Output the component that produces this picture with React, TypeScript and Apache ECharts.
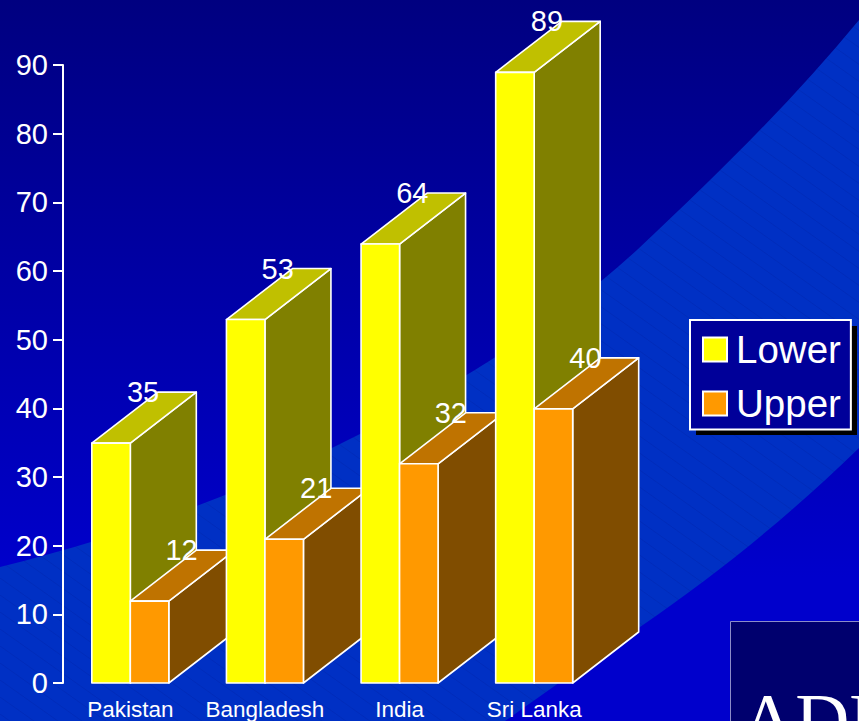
import React, { useEffect, useRef } from "react";
import * as echarts from "echarts";

const categories = ["Pakistan", "Bangladesh", "India", "Sri Lanka"];
const lowerValues = [35, 53, 64, 89];
const upperValues = [12, 21, 32, 40];
const yTicks = { min: 0, max: 90, interval: 10 };

const FONT = '"Liberation Sans", Arial, sans-serif';
const BAR_WIDTH = 38.5;
const DEPTH_X = 66;
const DEPTH_Y = -51;

const SWOOSH =
  "M0,567 C130,535 250,490 362,433 C470,378 560,320 637,250 C720,172 795,98 859,20 L859,448 C790,515 720,572 640,627 C590,660 545,693 505,721 L0,721 Z";
echarts.graphic.registerShape("swoosh", echarts.graphic.extendPath(SWOOSH, {}));

function hatchPattern(): HTMLCanvasElement {
  const c = document.createElement("canvas");
  c.width = 24;
  c.height = 17;
  const g = c.getContext("2d")!;
  g.fillStyle = "#0030c4";
  g.fillRect(0, 0, 24, 17);
  g.strokeStyle = "#002cba";
  g.lineWidth = 1;
  g.beginPath();
  g.moveTo(-24, -17);
  g.lineTo(48, 34);
  g.stroke();
  return c;
}

function bar3d(side: "left" | "right", front: string, top: string, right: string, seriesIndex: number) {
  return (params: any, api: any) => {
    const cat = api.value(0);
    const val = api.value(1);
    const [cx, yCoord] = api.coord([cat, val]);
    const yTop = yCoord + 0.5;
    const [, yBase] = api.coord([cat, 0]);
    const x0 = side === "left" ? cx - BAR_WIDTH : cx;
    const x1 = x0 + BAR_WIDTH;
    const z2 = cat * 10 + seriesIndex;
    const stroke = { stroke: "#ffffff", lineWidth: 1.6, lineJoin: "round" };
    const poly = (points: number[][], fill: string) => ({
      type: "polygon",
      z2,
      shape: { points },
      style: { fill, ...stroke },
    });
    return {
      type: "group",
      children: [
        poly(
          [
            [x1, yBase],
            [x1 + DEPTH_X, yBase + DEPTH_Y],
            [x1 + DEPTH_X, yTop + DEPTH_Y],
            [x1, yTop],
          ],
          right
        ),
        poly(
          [
            [x0, yTop],
            [x0 + DEPTH_X, yTop + DEPTH_Y],
            [x1 + DEPTH_X, yTop + DEPTH_Y],
            [x1, yTop],
          ],
          top
        ),
        poly(
          [
            [x0, yBase],
            [x0, yTop],
            [x1, yTop],
            [x1, yBase],
          ],
          front
        ),
        {
          type: "text",
          z2: 200,
          x: (x0 + x1) / 2 + DEPTH_X / 2 - 1,
          y: yTop + DEPTH_Y,
          style: {
            text: String(val),
            fill: "#ffffff",
            font: `29px ${FONT}`,
            align: "center",
            verticalAlign: "middle",
          },
        },
      ],
    };
  };
}

export default function App() {
  const ref = useRef<HTMLDivElement>(null);
  useEffect(() => {
    const chart = echarts.init(ref.current!, null, { renderer: "svg" });
    chart.setOption({
      animation: false,
      backgroundColor: {
        type: "linear",
        x: 0,
        y: 0,
        x2: 0,
        y2: 1,
        colorStops: [
          { offset: 0, color: "#000080" },
          { offset: 0.8, color: "#0000cc" },
          { offset: 1, color: "#0000cc" },
        ],
      },
      grid: { left: 63, right: 257.5, top: 65, bottom: 36 },
      xAxis: {
        type: "category",
        data: categories,
        axisLine: { show: false },
        axisTick: { show: false },
        axisLabel: {
          color: "#ffffff",
          fontFamily: FONT,
          fontSize: 22.5,
          margin: 15,
          interval: 0,
        },
      },
      yAxis: {
        type: "value",
        min: yTicks.min,
        max: yTicks.max,
        interval: yTicks.interval,
        splitLine: { show: false },
        axisLine: { show: true, lineStyle: { color: "#ffffff", width: 2 } },
        axisTick: { show: true, length: 10, lineStyle: { color: "#ffffff", width: 2 } },
        axisLabel: { color: "#ffffff", fontFamily: FONT, fontSize: 29, margin: 15 },
      },
      legend: {
        orient: "vertical",
        left: 690,
        top: 320,
        selectedMode: false,
        icon: "rect",
        backgroundColor: "#000099",
        borderColor: "#ffffff",
        borderWidth: 2,
        borderRadius: 0,
        padding: [10, 10, 6.5, 12],
        itemWidth: 24,
        itemHeight: 24,
        itemGap: 15,
        data: ["Lower", "Upper"],
        textStyle: {
          color: "#ffffff",
          fontFamily: FONT,
          fontSize: 38.5,
          padding: [0, 0, 0, 4],
        },
      },
      series: [
        {
          name: "Lower",
          type: "custom",
          renderItem: bar3d("left", "#ffff00", "#c0c000", "#808000", 0),
          encode: { x: 0, y: 1 },
          itemStyle: { color: "#ffff00", borderColor: "#ffffff", borderWidth: 1.5 },
          data: lowerValues.map((v, i) => [i, v]),
        },
        {
          name: "Upper",
          type: "custom",
          renderItem: bar3d("right", "#ff9900", "#bf7300", "#804d00", 1),
          encode: { x: 0, y: 1 },
          itemStyle: { color: "#ff9900", borderColor: "#ffffff", borderWidth: 1.5 },
          data: upperValues.map((v, i) => [i, v]),
        },
      ],
      graphic: {
        elements: [
          {
            type: "swoosh",
            x: 0,
            y: 0,
            z: 0,
            style: { fill: { image: hatchPattern(), repeat: "repeat" } },
          },
          {
            type: "rect",
            z: 1,
            shape: { x: 696, y: 326, width: 161, height: 109 },
            style: { fill: "#000000" },
          },
          {
            type: "rect",
            z: 1,
            shape: { x: 730.5, y: 621.5, width: 140, height: 120 },
            style: { fill: "#00006e", stroke: "#8c8cc8", lineWidth: 1 },
          },
          {
            type: "text",
            z: 1,
            x: 741,
            y: 757,
            style: {
              text: "ADB",
              fill: "#ffffff",
              font: '75px "Liberation Serif", serif',
              align: "left",
              verticalAlign: "bottom",
            },
          },
        ],
      },
    });
    return () => chart.dispose();
  }, []);
  return (
    <div
      ref={ref}
      style={{ position: "absolute", left: 0, top: 0, width: 859, height: 721, overflow: "hidden" }}
    />
  );
}
